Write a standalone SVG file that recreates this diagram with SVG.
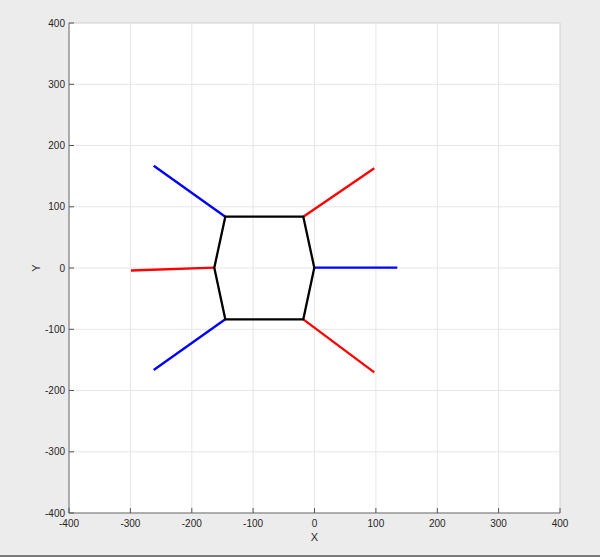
<svg xmlns="http://www.w3.org/2000/svg" width="600" height="557" viewBox="0 0 600 557">
<style>
.grid{stroke:#e6e6e6;stroke-width:1;fill:none}
.tick{stroke:#555;stroke-width:1}
.lbl{font-family:"Liberation Sans",Arial,sans-serif;font-size:10px;fill:#262626}
.big{font-size:11px}
.blue{stroke:#0000ff;stroke-width:2.3;fill:none}
.red{stroke:#ff0000;stroke-width:2.3;fill:none}
.blk{stroke:#000;stroke-width:2.3;fill:none;stroke-linejoin:round}
</style>
<rect x="0" y="0" width="600" height="557" fill="#ececec"/>
<line x1="0" y1="556" x2="600" y2="556" stroke="#555" stroke-width="1.5"/>
<g id="axes">
<rect x="69" y="23" width="491" height="490" fill="#ffffff" stroke="#d0d0d0" stroke-width="1"/>
<g class="grid">
<line x1="130.4" y1="23" x2="130.4" y2="513"/>
<line x1="191.8" y1="23" x2="191.8" y2="513"/>
<line x1="253.1" y1="23" x2="253.1" y2="513"/>
<line x1="314.5" y1="23" x2="314.5" y2="513"/>
<line x1="375.9" y1="23" x2="375.9" y2="513"/>
<line x1="437.3" y1="23" x2="437.3" y2="513"/>
<line x1="498.6" y1="23" x2="498.6" y2="513"/>
<line x1="69" y1="84.3" x2="560" y2="84.3"/>
<line x1="69" y1="145.5" x2="560" y2="145.5"/>
<line x1="69" y1="206.8" x2="560" y2="206.8"/>
<line x1="69" y1="268" x2="560" y2="268"/>
<line x1="69" y1="329.3" x2="560" y2="329.3"/>
<line x1="69" y1="390.5" x2="560" y2="390.5"/>
<line x1="69" y1="451.8" x2="560" y2="451.8"/>
</g>
<line x1="69" y1="23" x2="69" y2="513" stroke="#777" stroke-width="1"/>
<line x1="69" y1="513" x2="560" y2="513" stroke="#777" stroke-width="1"/>
<g class="tick">
<line x1="69" y1="513" x2="69" y2="508"/>
<line x1="130.4" y1="513" x2="130.4" y2="508"/>
<line x1="191.8" y1="513" x2="191.8" y2="508"/>
<line x1="253.1" y1="513" x2="253.1" y2="508"/>
<line x1="314.5" y1="513" x2="314.5" y2="508"/>
<line x1="375.9" y1="513" x2="375.9" y2="508"/>
<line x1="437.3" y1="513" x2="437.3" y2="508"/>
<line x1="498.6" y1="513" x2="498.6" y2="508"/>
<line x1="560" y1="513" x2="560" y2="508"/>
<line x1="69" y1="23" x2="74" y2="23"/>
<line x1="69" y1="84.3" x2="74" y2="84.3"/>
<line x1="69" y1="145.5" x2="74" y2="145.5"/>
<line x1="69" y1="206.8" x2="74" y2="206.8"/>
<line x1="69" y1="268" x2="74" y2="268"/>
<line x1="69" y1="329.3" x2="74" y2="329.3"/>
<line x1="69" y1="390.5" x2="74" y2="390.5"/>
<line x1="69" y1="451.8" x2="74" y2="451.8"/>
<line x1="69" y1="513" x2="74" y2="513"/>
</g>
<g class="lbl" text-anchor="middle">
<text x="69" y="527">-400</text>
<text x="130.4" y="527">-300</text>
<text x="191.8" y="527">-200</text>
<text x="253.1" y="527">-100</text>
<text x="314.5" y="527">0</text>
<text x="375.9" y="527">100</text>
<text x="437.3" y="527">200</text>
<text x="498.6" y="527">300</text>
<text x="560" y="527">400</text>
<text class="big" x="314.5" y="541">X</text>
<text class="big" transform="translate(40,268) rotate(-90)">Y</text>
</g>
<g class="lbl" text-anchor="end">
<text x="65" y="26.5">400</text>
<text x="65" y="87.8">300</text>
<text x="65" y="149">200</text>
<text x="65" y="210.3">100</text>
<text x="65" y="271.5">0</text>
<text x="65" y="332.8">-100</text>
<text x="65" y="394">-200</text>
<text x="65" y="455.3">-300</text>
<text x="65" y="516.5">-400</text>
</g>
</g>
<g id="connectors">
<line class="blue" x1="153.7" y1="165.7" x2="225.3" y2="216.7"/>
<line class="blue" x1="153.7" y1="370" x2="225.3" y2="319.3"/>
<line class="blue" x1="314.3" y1="267.7" x2="397.3" y2="267.7"/>
<line class="red" x1="131" y1="270.5" x2="214.3" y2="267.7"/>
<line class="red" x1="303.3" y1="216.7" x2="374.3" y2="168.3"/>
<line class="red" x1="303.3" y1="319.3" x2="374.3" y2="372.3"/>
</g>
<g id="hexagon">
<polygon class="blk" points="225.3,216.7 303.3,216.7 314.3,267.7 303.3,319.3 225.3,319.3 214.3,267.7"/>
</g>
</svg>
